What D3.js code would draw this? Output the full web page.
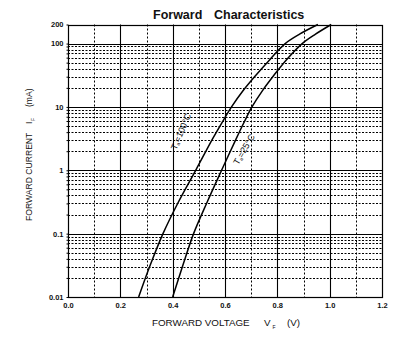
<!DOCTYPE html>
<html>
<head>
<meta charset="utf-8">
<script src="https://cdn.jsdelivr.net/npm/d3@7"></script>
<style>
  html, body { margin: 0; padding: 0; background: #fff; }
  svg { display: block; font-family: "Liberation Sans", Arial, sans-serif; }
</style>
</head>
<body>
<svg id="chart" width="412" height="343"></svg>
<script>
// Forward voltage (V) vs forward current (mA) for two ambient temperatures
const currLevels = [0.01, 0.0316, 0.1, 0.316, 1, 3.16, 5.62, 10, 17.8, 31.6, 56.2, 100, 141, 200];
const voltT100 = [0.270, 0.314, 0.363, 0.422, 0.488, 0.553, 0.588, 0.625, 0.668, 0.718, 0.772, 0.830, 0.885, 0.955];
const voltT25  = [0.400, 0.439, 0.480, 0.532, 0.587, 0.643, 0.672, 0.703, 0.742, 0.787, 0.836, 0.895, 0.946, 1.006];

const xTicks = [0.0, 0.2, 0.4, 0.6, 0.8, 1.0, 1.2];
const xMinor = [0.1, 0.3, 0.5, 0.7, 0.9, 1.1];
const yTicks = [0.01, 0.1, 1, 10, 100, 200];
const yTickLabels = ["0.01", "0.1", "1", "10", "100", "200"];
const yDecades = [0.01, 0.1, 1, 10];

const svg = d3.select("#chart");
const plotLeft = 68, plotRight = 382, plotTop = 24.5, plotBottom = 297;

const x = d3.scaleLinear().domain([0, 1.2]).range([plotLeft, plotRight]);
const y = d3.scaleLog().domain([0.01, 200]).range([plotBottom, plotTop]);

// minor log values 2..9 inside every decade below 100
const yMinor = [];
yDecades.forEach(d => { for (let k = 2; k <= 9; k++) yMinor.push(+(k * d).toPrecision(3)); });

const grid = svg.append("g").attr("class", "grid");
const px = v => Math.round(v) + 0.5;

// dotted horizontal minor lines
grid.selectAll("line.hmin").data(yMinor).join("line")
  .attr("x1", plotLeft).attr("x2", plotRight)
  .attr("y1", d => px(y(d))).attr("y2", d => px(y(d)))
  .attr("stroke", "#000").attr("stroke-width", 1).attr("stroke-dasharray", "2,1.5");

// dotted vertical lines at odd tenths
grid.selectAll("line.vmin").data(xMinor).join("line")
  .attr("x1", d => px(x(d))).attr("x2", d => px(x(d)))
  .attr("y1", plotTop).attr("y2", plotBottom)
  .attr("stroke", "#000").attr("stroke-width", 1).attr("stroke-dasharray", "2,2");

// solid decade lines
grid.selectAll("line.hmaj").data([0.1, 1, 10, 100]).join("line")
  .attr("x1", plotLeft).attr("x2", plotRight)
  .attr("y1", d => px(y(d))).attr("y2", d => px(y(d)))
  .attr("stroke", "#000").attr("stroke-width", 1.1);

// solid vertical lines
grid.selectAll("line.vmaj").data(xTicks.slice(1, -1)).join("line")
  .attr("x1", d => px(x(d))).attr("x2", d => px(x(d)))
  .attr("y1", plotTop).attr("y2", plotBottom)
  .attr("stroke", "#000").attr("stroke-width", 1.1);

// frame
svg.append("rect")
  .attr("x", plotLeft + 0.5).attr("y", Math.round(plotTop) + 0.5)
  .attr("width", plotRight - plotLeft).attr("height", plotBottom - Math.round(plotTop))
  .attr("fill", "none").attr("stroke", "#000").attr("stroke-width", 1.2);

// y axis: labelled major ticks plus short minor ticks
const yAxis = d3.axisLeft(y).tickValues(yTicks)
  .tickFormat((d, i) => yTickLabels[i]).tickSize(2).tickPadding(3);
const gy = svg.append("g").attr("transform", `translate(${plotLeft + 0.5},0)`).call(yAxis);
gy.select(".domain").remove();
gy.selectAll("text").attr("font-size", 7.5).attr("font-weight", "bold").attr("fill", "#111")
  .attr("font-family", "Liberation Sans, Arial, sans-serif");

const yAxisMinor = d3.axisLeft(y).tickValues(yMinor).tickFormat("").tickSize(2);
const gym = svg.append("g").attr("transform", `translate(${plotLeft + 0.5},0)`).call(yAxisMinor);
gym.select(".domain").remove();

// x axis labels
const xAxis = d3.axisBottom(x).tickValues(xTicks).tickFormat(d3.format(".1f")).tickSize(0).tickPadding(6);
const gx = svg.append("g").attr("transform", `translate(0,${plotBottom})`).call(xAxis);
gx.select(".domain").remove();
gx.selectAll("text").attr("font-size", 7.5).attr("font-weight", "bold").attr("fill", "#111")
  .attr("font-family", "Liberation Sans, Arial, sans-serif");

// curves
const curve = d3.line().x(d => x(d[0])).y(d => y(d[1])).curve(d3.curveCatmullRom.alpha(0.5));
const s100 = voltT100.map((v, i) => [v, currLevels[i]]);
const s25 = voltT25.map((v, i) => [v, currLevels[i]]);
[s100, s25].forEach(s => {
  svg.append("path").datum(s).attr("d", curve)
    .attr("fill", "none").attr("stroke", "#000").attr("stroke-width", 1.5);
});

// curve labels
function tempLabel(cx, cy, angle, temp) {
  const t = svg.append("text")
    .attr("transform", `translate(${cx},${cy}) rotate(${angle})`)
    .attr("text-anchor", "middle").attr("dominant-baseline", "middle")
    .attr("font-size", 9).attr("fill", "#111");
  t.append("tspan").text("T");
  t.append("tspan").attr("font-size", 5).attr("dy", 2).text("a");
  t.append("tspan").attr("dy", -2).text("=" + temp + "°C");
}
tempLabel(182, 132, -67, 100);
tempLabel(245, 150, -60, 25);

// title
svg.append("text").attr("x", 153).attr("y", 19)
  .attr("font-size", 12.5).attr("font-weight", "bold").attr("fill", "#111")
  .text("Forward");
svg.append("text").attr("x", 214).attr("y", 19)
  .attr("font-size", 12.5).attr("font-weight", "bold").attr("fill", "#111")
  .text("Characteristics");

// x axis title
const xt = svg.append("g").attr("fill", "#111").attr("font-size", 9.8);
xt.append("text").attr("x", 152).attr("y", 326).text("FORWARD VOLTAGE");
xt.append("text").attr("x", 264).attr("y", 326).text("V");
xt.append("text").attr("x", 272.5).attr("y", 329).attr("font-size", 5).text("F");
xt.append("text").attr("x", 287).attr("y", 326).text("(V)");

// y axis title
const yt = svg.append("g").attr("fill", "#111").attr("font-size", 8.6)
  .attr("transform", "translate(32,0) rotate(-90)");
yt.append("text").attr("x", -221).attr("y", 0).text("FORWARD CURRENT");
yt.append("text").attr("x", -124).attr("y", 0).text("I");
yt.append("text").attr("x", -121).attr("y", 3).attr("font-size", 5).text("F");
yt.append("text").attr("x", -107).attr("y", 0).text("(mA)");
</script>
</body>
</html>
